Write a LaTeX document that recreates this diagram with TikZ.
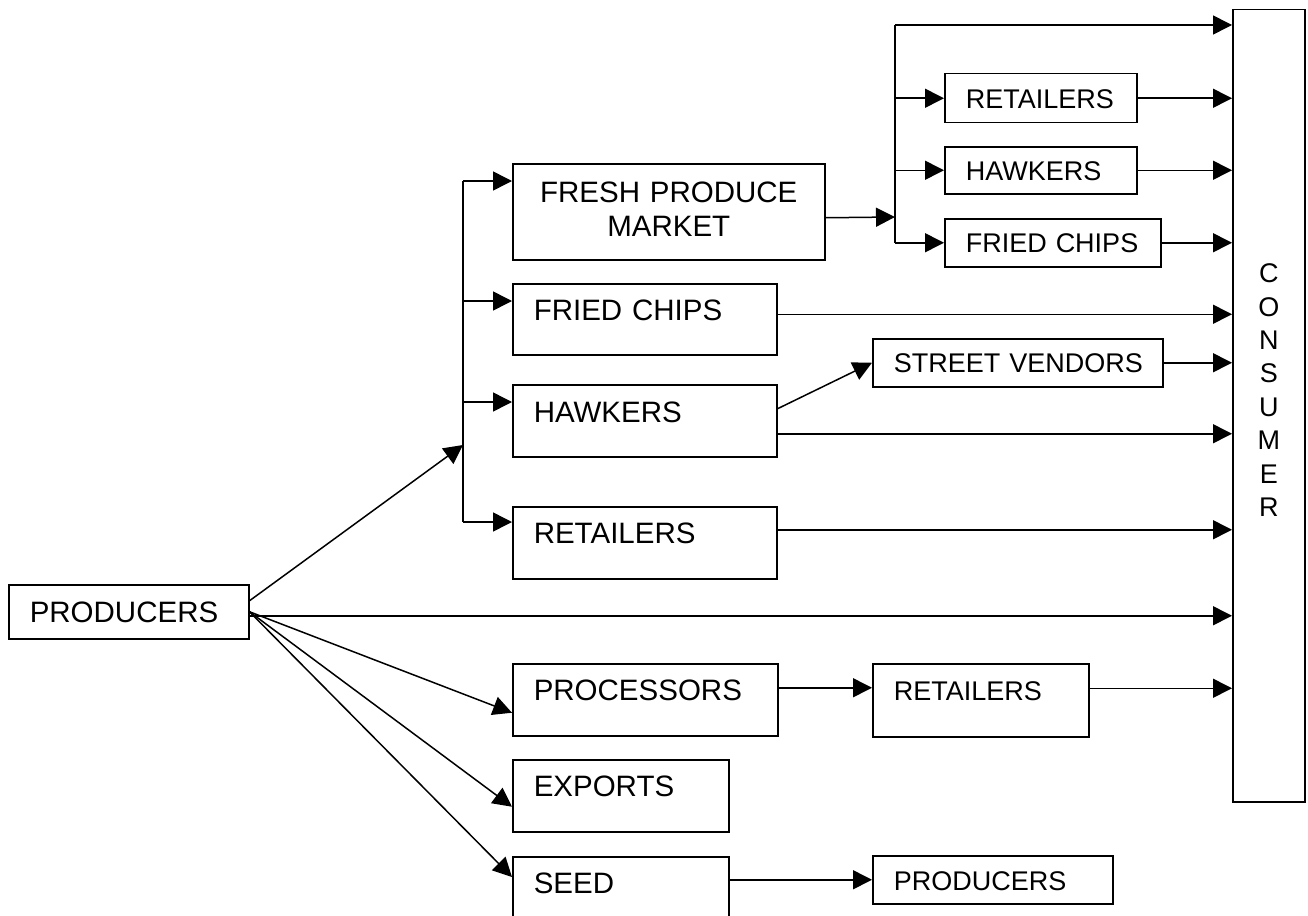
\documentclass[tikz,border=0pt]{standalone}
\usepackage{fontspec}
\setmainfont{Liberation Sans}
\usetikzlibrary{calc,arrows.meta}
\hyphenpenalty=10000
\newcommand\bigfont{\fontsize{29.5}{33.4}\selectfont}
\newcommand\smallfont{\fontsize{27}{33.4}\selectfont}
\tikzset{
  wire/.style={line width=1.5pt},
  arr/.style={wire, -{Triangle[length=19pt,width=19pt]}},
  box/.style n args={3}{draw, line width=1.5pt, anchor=north west, inner xsep=21pt, inner ysep=0pt,
    align=left, font=\bigfont, text width=#1pt, text height=#2pt, text depth=#3pt},
  sbox/.style n args={3}{box={#1}{#2}{#3}, font=\smallfont}
}
\begin{document}
\begin{tikzpicture}[x=1pt,y=-1pt]
  \useasboundingbox (0,0) rectangle (1308,915);
  \clip (0,0) rectangle (1308,915);
  \node[box={198}{38}{16}] (prod) at (8,584) {PRODUCERS};
  \node[box={270}{39}{57}, align=center] (fpm) at (512,163) {FRESH PRODUCE\\MARKET};
  \node[box={222}{37}{34}] (chips) at (512,283) {FRIED CHIPS};
  \node[box={222}{38}{34}] (hawk) at (512,384) {HAWKERS};
  \node[box={222}{37}{35}] (ret) at (512,506) {RETAILERS};
  \node[box={223}{37}{35}] (proc) at (512,663) {PROCESSORS};
  \node[box={174}{37}{35}] (exp) at (512,759) {EXPORTS};
  \node[box={174}{37}{35}] (seed) at (512,856) {SEED};
  \node[sbox={150}{35}{14}] (ret2) at (944,73) {RETAILERS};
  \node[sbox={150}{34}{13}] (hawk2) at (944,146) {HAWKERS};
  \node[sbox={174}{34}{14}] (chips2) at (944,218) {FRIED CHIPS};
  \node[sbox={248}{34}{14}] (sv) at (872,338) {\mbox{STREET VENDORS}};
  \node[sbox={174}{37}{36}] (ret3) at (872,663) {RETAILERS};
  \node[sbox={198}{35}{13}] (prod2) at (872,855) {PRODUCERS};
  \node[sbox={72}{273}{519}, inner xsep=0pt, align=center] (cons) at (1232,9) {C\\O\\N\\S\\U\\M\\E\\R};

  \coordinate (j) at (463,445);
  \coordinate (k) at (895,217);
  \coordinate (ktop) at (895,25);
  \coordinate (fpmin) at ($(fpm.north west)+(0,18)$);
  \coordinate (chipsin) at ($(chips.north west)+(0,18)$);
  \coordinate (hawkin) at ($(hawk.north west)+(0,18)$);
  \coordinate (retin) at ($(ret.north west)+(0,16)$);

  \draw[arr] ([yshift=11pt]prod.east) -- (j);
  \draw[wire] (j |- fpmin) -- (j |- retin);
  \draw[arr] (j |- fpmin) -- (fpmin);
  \draw[arr] (j |- chipsin) -- (chipsin);
  \draw[arr] (j |- hawkin) -- (hawkin);
  \draw[arr] (j |- retin) -- (retin);

  \draw[arr] ([yshift=-6pt]fpm.east) -- (k);
  \draw[wire] (ktop) -- (k |- chips2.west);
  \draw[arr] (ktop) -- (ktop -| cons.west);
  \draw[arr] (k |- ret2.west) -- (ret2.west);
  \draw[arr] (k |- hawk2.west) -- (hawk2.west);
  \draw[arr] (k |- chips2.west) -- (chips2.west);
  \draw[arr] (ret2.east) -- (ret2.east -| cons.west);
  \draw[arr] (hawk2.east) -- (hawk2.east -| cons.west);
  \draw[arr] (chips2.east) -- (chips2.east -| cons.west);

  \draw[arr] ([yshift=5pt]chips.east) coordinate (c1) -- (c1 -| cons.west);
  \draw[arr] ([yshift=12pt]hawk.east) -- (sv.west);
  \draw[arr] (sv.east) -- (sv.east -| cons.west);
  \draw[arr] ([yshift=-13pt]hawk.east) coordinate (h1) -- (h1 -| cons.west);
  \draw[arr] ([yshift=13pt]ret.east) coordinate (r1) -- (r1 -| cons.west);
  \draw[arr] ([yshift=-4pt]prod.east) coordinate (p1) -- (p1 -| cons.west);

  \draw[arr] (prod.east) -- ([yshift=-13pt]proc.west);
  \draw[arr] (prod.east) -- ([yshift=-11pt]exp.west);
  \draw[arr] (prod.east) -- ($(seed.north west)+(0,21)$);
  \draw[arr] ([yshift=12pt]proc.east) coordinate (q1) -- (q1 -| ret3.west);
  \draw[arr] ([yshift=12pt]ret3.east) coordinate (q2) -- (q2 -| cons.west);
  \draw[arr] (seed.east |- prod2.west) -- (prod2.west);
\end{tikzpicture}
\end{document}
